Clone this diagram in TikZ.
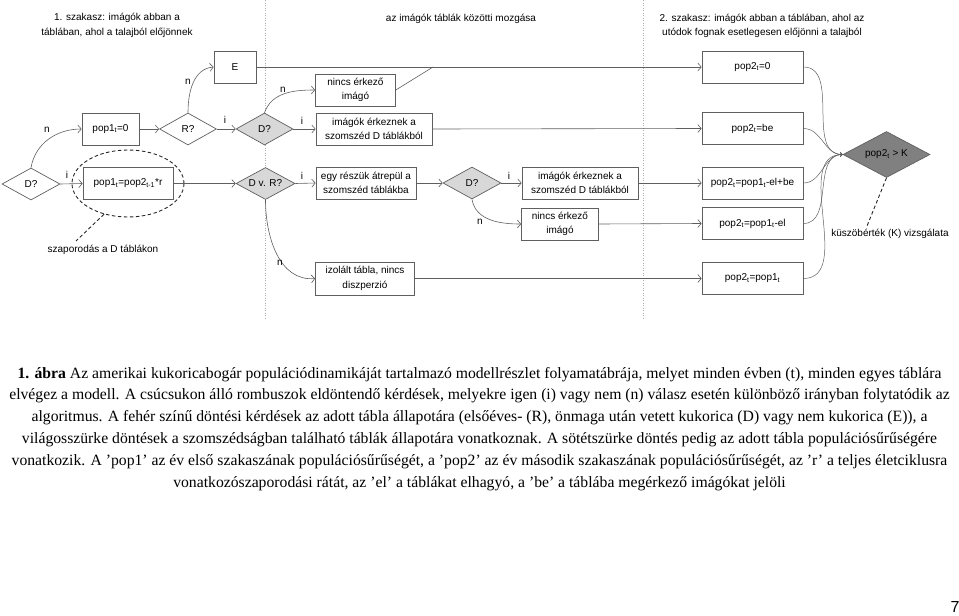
\documentclass[tikz,border=0pt]{standalone}
\usepackage{fontspec}
\setmainfont{Liberation Serif}
\newfontfamily\diafont{Liberation Sans}
\usetikzlibrary{shapes.geometric,arrows.meta}
\definecolor{lc}{RGB}{95,95,95}
\definecolor{lgray}{RGB}{216,216,216}
\definecolor{dgray}{RGB}{128,128,128}
\definecolor{dotc}{RGB}{175,175,175}
\newcommand\dtext[1]{\makebox[0pt]{#1}}
\begin{document}
\begin{tikzpicture}[x=1pt,y=-1pt,
  font=\diafont\fontsize{10}{14.5}\selectfont,
  box/.style={draw=lc, line width=0.7pt, fill=white, rectangle, inner sep=1pt, align=center, minimum height=32pt},
  dia/.style={draw=lc, line width=0.7pt, fill=white, diamond, shape aspect=1, inner sep=0pt, minimum width=57pt, minimum height=32pt},
  conn/.style={draw=lc, line width=0.6pt, -{Straight Barb[length=3.5pt,width=8pt]}},
  plainline/.style={draw=lc, line width=0.6pt},
  fan/.style={draw=lc, line width=0.5pt, -{Straight Barb[length=2pt,width=4pt]}},
  lab/.style={inner sep=0pt},
  dashline/.style={draw=black!85, line width=0.9pt, dash pattern=on 3.5pt off 2.5pt},
  sep/.style={draw=dotc, line width=0.8pt, dash pattern=on 1pt off 1.5pt},
  captxt/.style={font=\rmfamily\fontsize{15.7}{18}\selectfont, anchor=base, inner sep=0pt}
]
\useasboundingbox (0,0) rectangle (959,616);

% separators
\draw[sep] (265,0) -- (265,318);
\draw[sep] (643,0) -- (643,318);

% headers
\node[align=center] (h1) at (117,25.5) {1. szakasz: imágók abban a\\táblában, ahol a talajból előjönnek};
\node (h2) at (461,19) {az imágók táblák közötti mozgása};
\node[align=center] (h3) at (762,26) {2. szakasz: imágók abban a táblában, ahol az\\utódok fognak esetlegesen előjönni a talajból};

% dashed ellipse
\node[ellipse, dashline, minimum width=112pt, minimum height=67pt] (ell) at (128,183.5) {};

% nodes
\node[dia, minimum width=58pt] (d1) at (31,184) {\dtext{D?}};
\node[box, minimum width=57pt] (p1) at (110.5,129) {pop1\textsubscript{t}=0};
\node[dia] (r) at (188,129) {\dtext{R?}};
\node[box, minimum width=42pt] (e) at (235,67) {E};
\node[dia, fill=lgray] (d2) at (264.5,129) {\dtext{D?}};
\node[box, minimum width=80pt] (n1) at (355.5,90) {nincs érkező\\imágó};
\node[box, minimum width=116pt] (i1) at (374,129) {imágók érkeznek a\\szomszéd D táblákból};
\node[box, minimum width=90pt] (p1r) at (128,183.5) {pop1\textsubscript{t}=pop2\textsubscript{t-1}*r};
\node[dia, fill=lgray, minimum width=59pt] (dr) at (265.5,183.5) {\dtext{D v. R?}};
\node[box, minimum width=100pt] (egy) at (366,183) {egy részük átrepül a\\szomszéd táblákba};
\node[dia, fill=lgray, minimum width=58pt] (d3) at (472,183) {\dtext{D?}};
\node[box, minimum width=116pt] (i2) at (580,183) {imágók érkeznek a\\szomszéd D táblákból};
\node[box, minimum width=77pt] (n2) at (560,224) {nincs érkező\\imágó};
\node[box, minimum width=99pt, minimum height=33pt] (iz) at (365,278.5) {izolált tábla, nincs\\diszperzió};

\node[box, minimum width=101pt] (q0) at (752.5,67) {pop2\textsubscript{t}=0};
\node[box, minimum width=101pt] (qb) at (752.5,128.5) {pop2\textsubscript{t}=be};
\node[box, minimum width=101pt] (qeb) at (752.5,183) {pop2\textsubscript{t}=pop1\textsubscript{t}-el+be};
\node[box, minimum width=101pt] (qe) at (752.5,223.5) {pop2\textsubscript{t}=pop1\textsubscript{t}-el};
\node[box, minimum width=101pt] (qp) at (752.5,278.5) {pop2\textsubscript{t}=pop1\textsubscript{t}};
\node[dia, fill=dgray, minimum width=87pt, minimum height=46pt] (k) at (886.5,154.5) {\dtext{pop2\textsubscript{t} > K}};

% connectors
\draw[conn] (d1.north) to[out=80,in=180] (p1.west);
\draw[conn] (d1.east) -- (p1r.west);
\draw[conn] (p1.east) -- (r.west);
\draw[conn] (r.north) to[out=90,in=185] (e.west);
\draw[conn] (r.east) -- (d2.west);
\draw[conn] (d2.north) to[out=70,in=180] (n1.west);
\draw[conn] (d2.east) -- (i1.west);
\draw[conn] (p1r.east) -- (dr.west);
\draw[conn] (dr.east) -- (egy.west);
\draw[conn] (dr.south) to[out=-90,in=185] (iz.west);
\draw[conn] (egy.east) -- (d3.west);
\draw[conn] (d3.east) -- (i2.west);
\draw[conn] (d3.south) to[out=-80,in=180] (n2.west);
\draw[conn] (e.east) -- (q0.west);
\coordinate (j) at (433,67);
\draw[plainline] (n1.east) -- (j);
\draw[conn] (i1.east) -- (qb.west);
\draw[conn] (i2.east) -- (qeb.west);
\draw[conn] (n2.east) -- (qe.west);
\draw[conn] (iz.east) -- (qp.west);
\foreach \q in {q0,qb,qeb,qe,qp} \draw[fan] (\q.east) to[out=0,in=180] (k.west);

% branch labels
\node[lab] (l1) at (47,130) {n};
\node[lab] (l2) at (67,175) {i};
\node[lab] (l3) at (188,82) {n};
\node[lab] (l4) at (225,120) {i};
\node[lab] (l5) at (283,90) {n};
\node[lab] (l6) at (302,121) {i};
\node[lab] (l7) at (302,176) {i};
\node[lab] (l8) at (280,263) {n};
\node[lab] (l9) at (509,176) {i};
\node[lab] (l10) at (480,222) {n};

% annotations
\node (sz) at (103,250) {szaporodás a D táblákon};
\coordinate (c1) at (76,241);
\draw[dashline] (ell.232) -- (c1);
\node (ku) at (890,234) {küszöbérték (K) vizsgálata};
\coordinate (c2) at (867,226);
\draw[dashline] (k.south) -- (c2);

% caption
\node[captxt] (t1) at (479.5,378) {\textbf{1. ábra} Az amerikai kukoricabogár populációdinamikáját tartalmazó modellrészlet folyamatábrája, melyet minden évben (t), minden egyes táblára};
\node[captxt] (t2) at (479.5,399.8) {elvégez a modell. A csúcsukon álló rombuszok eldöntendő kérdések, melyekre igen (i) vagy nem (n) válasz esetén különböző irányban folytatódik az};
\node[captxt] (t3) at (479.5,421.6) {algoritmus. A fehér színű döntési kérdések az adott tábla állapotára (elsőéves- (R), önmaga után vetett kukorica (D) vagy nem kukorica (E)), a};
\node[captxt] (t4) at (479.5,443.4) {világosszürke döntések a szomszédságban található táblák állapotára vonatkoznak. A sötétszürke döntés pedig az adott tábla populációsűrűségére};
\node[captxt] (t5) at (479.5,465.2) {vonatkozik. A ’pop1’ az év első szakaszának populációsűrűségét, a ’pop2’ az év második szakaszának populációsűrűségét, az ’r’ a teljes életciklusra};
\node[captxt] (t6) at (479.5,487) {vonatkozószaporodási rátát, az ’el’ a táblákat elhagyó, a ’be’ a táblába megérkező imágókat jelöli};

\node[font=\diafont\fontsize{16}{18}\selectfont, anchor=base, inner sep=0pt] (pg) at (955,612) {7};
\end{tikzpicture}
\end{document}
